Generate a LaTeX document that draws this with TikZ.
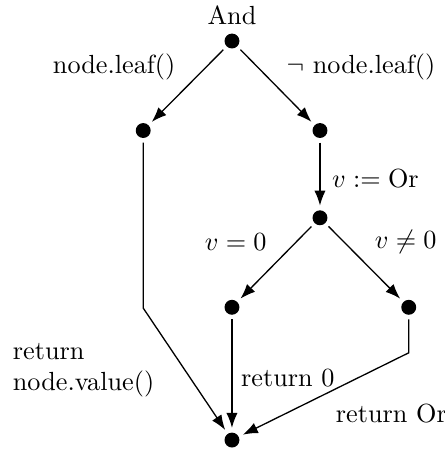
\documentclass[tikz,border=0pt]{standalone}
\usepackage{amsmath,amssymb}
\usepackage{tikz}
\usetikzlibrary{arrows.meta,positioning}

\begin{document}
\begin{tikzpicture}[x=1cm,y=1cm,>={Latex[length=2mm,width=1.5mm]},line width=0.5pt,
    pt/.style={circle, fill=black, inner sep=0pt, minimum size=2mm, outer sep=1.8pt},
    lbl/.style={align=left, inner sep=1pt}]
  \useasboundingbox (0,0) rectangle (5.96,6.06);
  % ---- points ----
  \node[pt] (root) at (3.11,5.51) {};
  \node[pt] (leaf) at (1.92,4.31) {};
  \node[pt] (inner) at (4.29,4.31) {};
  \node[pt] (orv) at (4.29,3.14) {};
  \node[pt] (zero) at (3.11,1.94) {};
  \node[pt] (nonzero) at (5.48,1.94) {};
  \node[pt] (ret) at (3.11,0.16) {};
  \coordinate (lbend) at (1.92,1.93);
  \coordinate (nbend) at (5.48,1.33);
  % ---- labels ----
  \node[lbl] (tand) at (3.11,5.86) {And};
  \node[lbl] (tleaf) at (1.53,5.16) {node.leaf()};
  \node[lbl] (tnleaf) at (4.84,5.16) {$\neg$ node.leaf()};
  \node[lbl, anchor=west] (tor) at (4.41,3.67) {$v := \text{Or}$};
  \node[lbl] (tzero) at (3.16,2.81) {$v = 0$};
  \node[lbl] (tnzero) at (5.44,2.81) {$v \neq 0$};
  \node[lbl] (tval) at (1.12,1.10) {return\\node.value()};
  \node[lbl] (tret0) at (3.86,0.99) {return 0};
  \node[lbl, anchor=west] (tretor) at (4.46,0.51) {return Or};
  % ---- edges ----
  \draw[->] (root) -- (leaf);
  \draw[->] (root) -- (inner);
  \draw[->] (inner) -- (orv);
  \draw[->] (orv) -- (zero);
  \draw[->] (orv) -- (nonzero);
  \draw[->] (leaf) -- (lbend) -- (ret);
  \draw[->] (zero) -- (ret);
  \draw[->] (nonzero) -- (nbend) -- (ret);
\end{tikzpicture}
\end{document}
